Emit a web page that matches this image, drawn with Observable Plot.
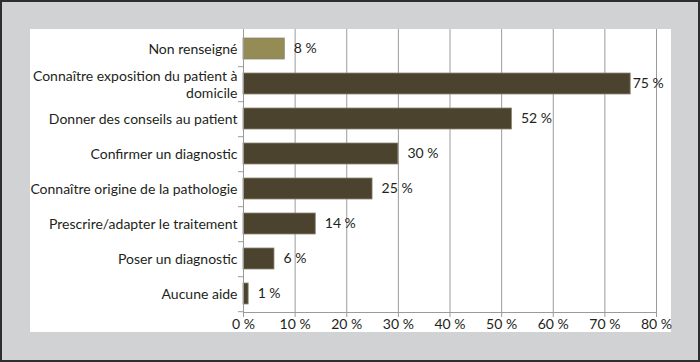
<!DOCTYPE html>
<html>
<head>
<meta charset="utf-8">
<script src="https://cdn.jsdelivr.net/npm/d3@7"></script>
<script src="https://cdn.jsdelivr.net/npm/@observablehq/plot@0.6"></script>
<style>
  html, body { margin: 0; padding: 0; }
  #frame {
    position: relative; width: 700px; height: 362px; box-sizing: border-box;
    background: #d1d2d4; border: 2px solid #2e2e2e; overflow: hidden;
  }
  #chart { position: absolute; left: 28px; top: 27px; }
  #chart svg { display: block; background: #fff; }
</style>
</head>
<body>
<div id="frame"><div id="chart"></div></div>
<script>
const categories = [
  "Non renseigné",
  "Connaître exposition du patient à\ndomicile",
  "Donner des conseils au patient",
  "Confirmer un diagnostic",
  "Connaître origine de la pathologie",
  "Prescrire/adapter le traitement",
  "Poser un diagnostic",
  "Aucune aide"
];
const values = [8, 75, 52, 30, 25, 14, 6, 1];
const highlight = ["Non renseigné"];
const xTicks = [0, 10, 20, 30, 40, 50, 60, 70, 80];

const data = categories.map((c, i) => ({cat: c, value: values[i]}));

const textColor = "#231f20";
const font = "Lato, 'Open Sans', sans-serif";

const W = 641, H = 303;
const mLeft = 213, mBottom = 20, mTop = 0, mRight = 15;
const step = (H - mTop - mBottom) / categories.length;

const chart = Plot.plot({
  width: W,
  height: H,
  marginLeft: mLeft,
  marginRight: mRight,
  marginTop: mTop,
  marginBottom: mBottom,
  style: {fontFamily: font, fontSize: "14px", color: textColor, background: "#fff", overflow: "visible"},
  x: {domain: [0, 80], ticks: xTicks, label: null},
  y: {domain: categories, paddingInner: 0.41, paddingOuter: 0.205, label: null},
  marks: [
    Plot.gridX(xTicks, {stroke: "#9b9b9b", strokeOpacity: 1, strokeWidth: 1}),
    Plot.barX(data, {
      y: "cat", x: "value",
      fill: d => highlight.includes(d.cat) ? "#958b55" : "#4b432d",
      stroke: "#8d8672", strokeWidth: 0.8
    }),
    Plot.text(data.filter(d => d.value < 70), {
      y: "cat", x: "value", text: d => d.value + " %",
      textAnchor: "start", dx: 9, fill: textColor, fontSize: 14
    }),
    Plot.text(data.filter(d => d.value >= 70), {
      y: "cat", x: "value", text: d => d.value + " %",
      textAnchor: "start", dx: 2, fill: textColor, fontSize: 14
    }),
    Plot.ruleX([0], {stroke: "#9b9b9b"}),
    Plot.frame({anchor: "bottom", stroke: "#9b9b9b"}),
    Plot.axisY({
      label: null, tickSize: 0, tickPadding: 6, fill: textColor, fontSize: 14,
      lineHeight: 1.2, textAnchor: "end"
    }),
    Plot.axisY({
      label: null, tickSize: 5, tickFormat: () => "", stroke: "#9b9b9b", dy: step / 2
    }),
    Plot.axisX({
      label: null, ticks: xTicks, tickFormat: d => d + " %", tickSize: 5, tickPadding: 2,
      stroke: "#9b9b9b", fill: textColor, fontSize: 14
    })
  ]
});

document.getElementById("chart").appendChild(chart);
</script>
</body>
</html>
